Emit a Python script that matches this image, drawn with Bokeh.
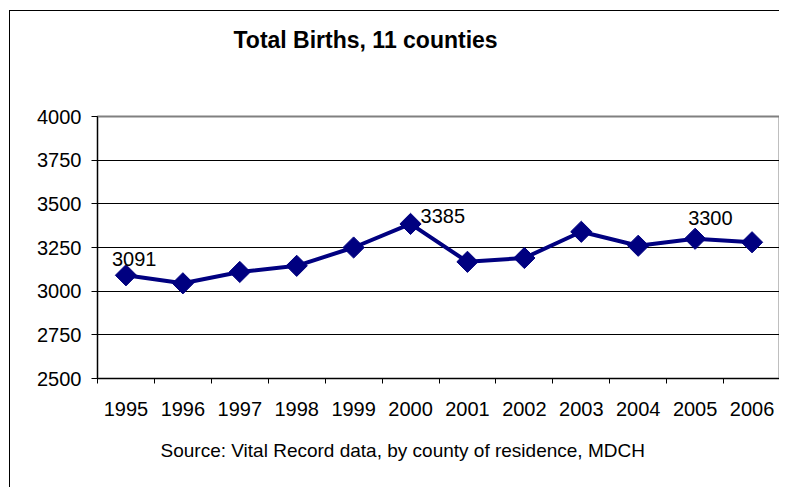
import math
from bokeh.plotting import figure
from bokeh.models import Range1d, FixedTicker, Title, ColumnDataSource
from bokeh.embed import file_html
from bokeh.resources import INLINE
from bokeh.core.properties import value

# ---- data ----
years = ["1995", "1996", "1997", "1998", "1999", "2000",
         "2001", "2002", "2003", "2004", "2005", "2006"]
births = [3091, 3045, 3110, 3145, 3250, 3385, 3168, 3190, 3340, 3260, 3300, 3280]
y_ticks = [2500, 2750, 3000, 3250, 3500, 3750, 4000]
labeled_years = ["1995", "2000", "2005"]
title_text = "Total Births, 11 counties"
source_text = "Source: Vital Record data, by county of residence, MDCH"

FONT = "Liberation Sans"
NAVY = "#000080"

xs = list(range(len(years)))

p = figure(width=770, height=477,
           x_range=Range1d(-0.5, len(years) - 0.5),
           y_range=Range1d(y_ticks[0], y_ticks[-1]),
           output_backend="svg", toolbar_location=None,
           min_border_left=87, min_border_top=105,
           min_border_right=0, min_border_bottom=110)
p.styles = {"border-left": "1px solid #000000", "border-top": "1px solid #000000",
            "margin-left": "9px", "margin-top": "10px"}

p.background_fill_color = "white"
p.border_fill_color = "white"
p.outline_line_color = "#808080"
p.outline_line_width = 2
p.title.text = ""

# white (invisible) spacer between the frame and the title, then the title itself
spacer = Title(text=".", text_font=FONT, text_font_size="10px", standoff=52,
               text_color="white")
p.add_layout(spacer, "above")
main_title = Title(text=title_text, align="left", offset=136, standoff=4,
                   text_font=FONT, text_font_size="23px", text_font_style="bold",
                   text_color="black")
p.add_layout(main_title, "above")

# x axis: labels at category centres, tick marks at category boundaries
xa = p.xaxis[0]
xa.ticker = FixedTicker(ticks=xs, minor_ticks=[i - 0.5 for i in range(len(years) + 1)])
xa.major_label_overrides = {i: y for i, y in enumerate(years)}
xa.major_tick_out = 0
xa.major_tick_in = 0
xa.minor_tick_out = 5
xa.minor_tick_in = 0
xa.minor_tick_line_color = "black"
xa.axis_line_color = "black"
xa.major_label_standoff = 18
xa.major_label_text_font = FONT
xa.major_label_text_font_size = "20px"
xa.major_label_text_color = "black"

ya = p.yaxis[0]
ya.ticker = FixedTicker(ticks=y_ticks)
ya.major_tick_out = 6
ya.major_tick_in = 0
ya.minor_tick_out = 0
ya.minor_tick_in = 0
ya.major_tick_line_color = "black"
ya.axis_line_color = "black"
ya.major_label_standoff = 10
ya.major_label_text_font = FONT
ya.major_label_text_font_size = "20px"
ya.major_label_text_color = "black"

p.xgrid.grid_line_color = None
p.ygrid.ticker = FixedTicker(ticks=y_ticks)
p.ygrid.grid_line_color = "black"
p.ygrid.grid_line_width = 1

p.line(xs, births, line_color=NAVY, line_width=4)
p.scatter(xs, births, marker="square", angle=math.pi / 4, size=15,
          fill_color=NAVY, line_color=NAVY)

# data labels
lab_idx = [years.index(y) for y in labeled_years]
lab_dx = [-14, 10, -7]
lab_dy = [-16, -8, -21]
lsrc = ColumnDataSource(dict(x=lab_idx, y=[births[i] for i in lab_idx],
                             t=[str(births[i]) for i in lab_idx],
                             dx=lab_dx, dy=lab_dy))
p.text(x="x", y="y", text="t", x_offset="dx", y_offset="dy", source=lsrc,
       text_font=value(FONT), text_font_size="20px", text_color="black",
       text_align="left", text_baseline="alphabetic")

src_title = Title(text=source_text, align="left", offset=63, standoff=39,
                  text_font=FONT, text_font_size="19px", text_font_style="normal",
                  text_color="black")
p.add_layout(src_title, "below")

open("out.html", "w").write(file_html(p, INLINE))
